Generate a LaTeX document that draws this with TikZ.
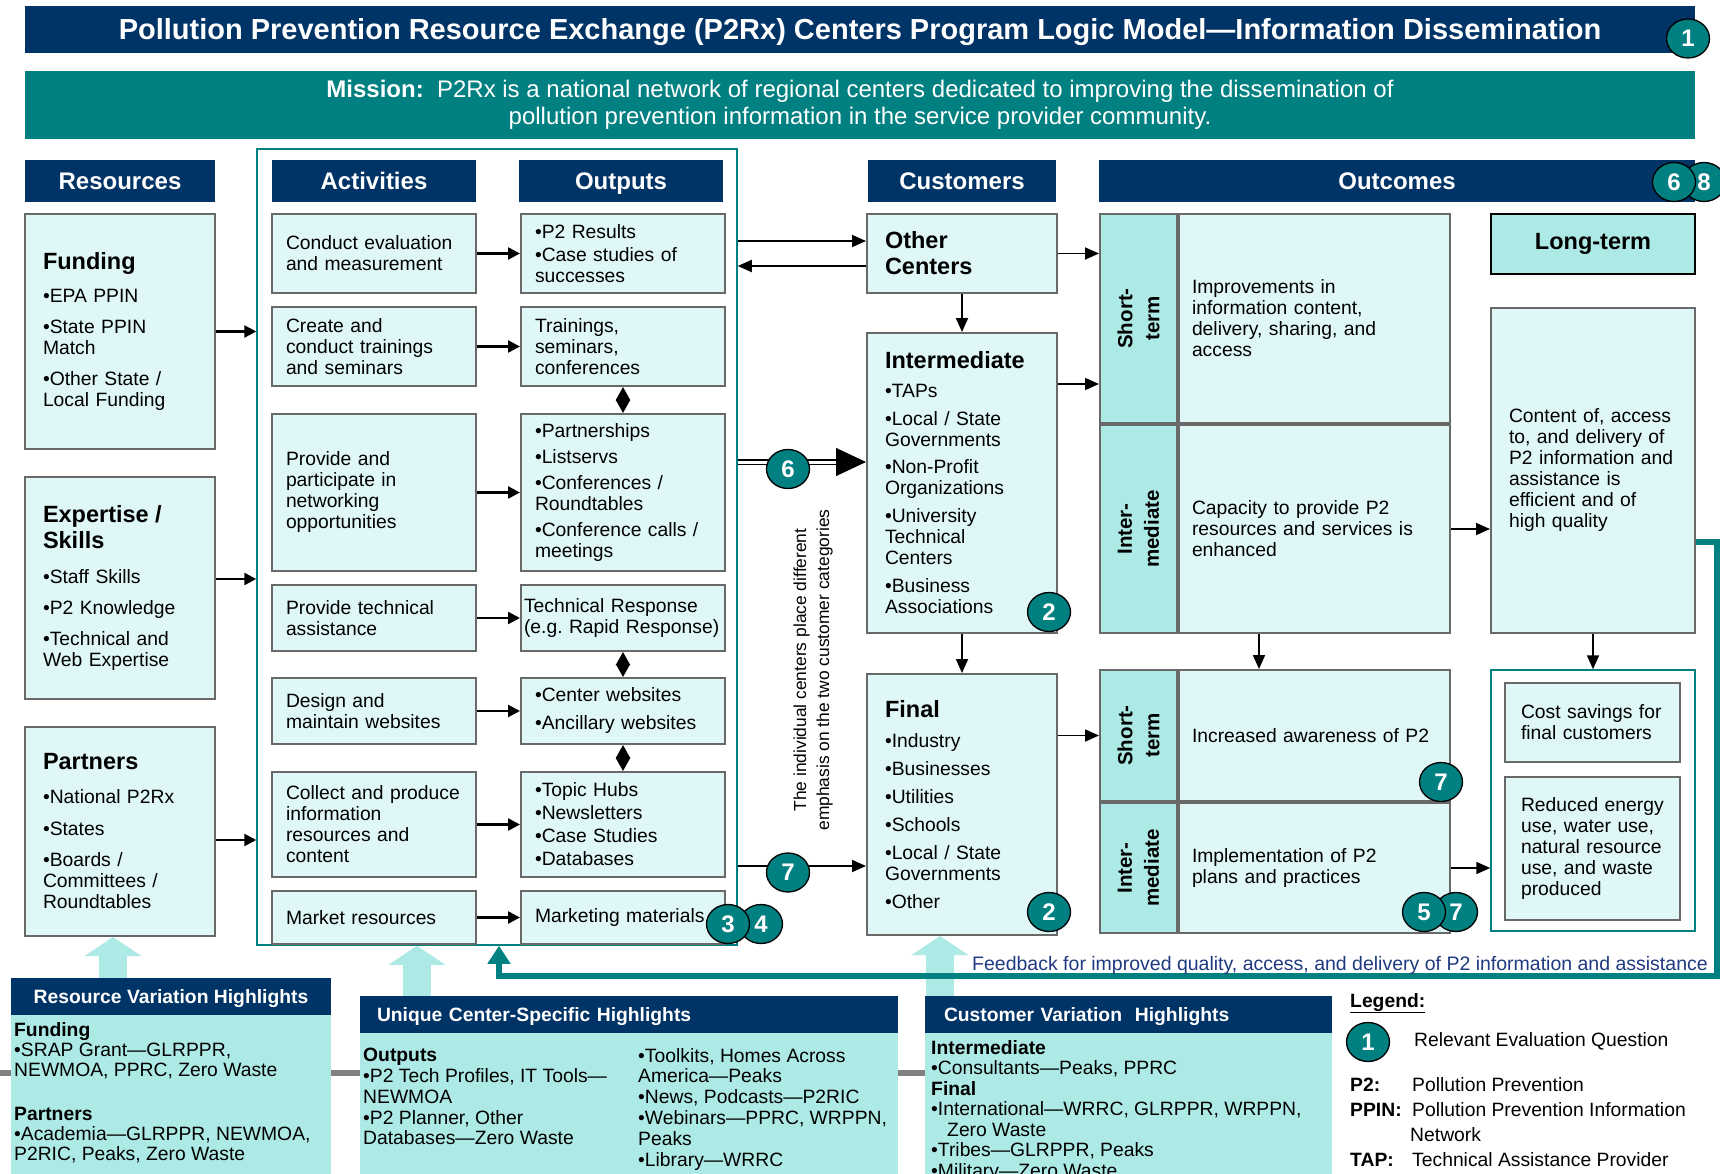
\documentclass[tikz,border=0pt]{standalone}
\usepackage{fontspec}
\setmainfont{Liberation Sans}
\usetikzlibrary{arrows.meta, positioning, shapes.geometric}

\definecolor{navy}{RGB}{0,51,102}
\definecolor{p2teal}{RGB}{0,128,128}
\definecolor{pale}{RGB}{223,247,247}
\definecolor{aqua}{RGB}{173,234,230}
\definecolor{edge}{RGB}{105,105,105}
\definecolor{fbblue}{RGB}{31,58,128}

% font sizes (1pt = 1px of the layout grid)
\newcommand\txtsize{\fontsize{19.3}{21}\selectfont}
\newcommand\hdsize{\fontsize{24}{28}\selectfont\bfseries}
\newcommand\grpsize{\fontsize{23.5}{25}\selectfont\bfseries}

\hyphenpenalty=10000
\exhyphenpenalty=10000

\begin{document}
\begin{tikzpicture}[x=1pt, y=-1pt,
    banner/.style={rectangle, fill=navy, text=white, font=\hdsize, inner sep=0pt, minimum height=42pt,
                   text height=17.5pt, text depth=0pt},
    cell/.style={rectangle, draw=edge, line width=2pt, fill=pale, font=\txtsize, align=left, inner ysep=2pt},
    resbox/.style={cell, minimum width=190pt, text width=154pt, inner xsep=18pt},
    actbox/.style={cell, minimum width=204pt, text width=176pt, inner xsep=14pt},
    custbox/.style={cell, minimum width=190pt, text width=154pt, inner xsep=18pt},
    termbox/.style={cell, fill=aqua, minimum width=77pt},
    resultbox/.style={cell, minimum width=271pt, text width=245pt, inner xsep=13pt},
    termlabel/.style={rotate=90, align=center, font=\fontsize{20.5}{27}\selectfont\bfseries, inner sep=0pt},
    badge/.style={ellipse, draw=black, line width=1.3pt, fill=p2teal, text=white, minimum width=43pt, minimum height=39pt, inner sep=0pt, font=\fontsize{24}{24}\selectfont\bfseries},
    flow/.style={-{Triangle[length=12pt, width=12pt]}, line width=2.5pt},
    thinflow/.style={-{Triangle[length=14pt, width=12pt]}, line width=1.8pt},
    link/.style={{Triangle[length=13pt, width=14pt]}-{Triangle[length=13pt, width=14pt]}, line width=2pt},
    bigup/.style={-{Triangle[length=19pt, width=56pt]}, line width=28pt, draw=aqua},
    feedback/.style={-{Triangle[length=18pt, width=22pt]}, line width=6pt, draw=p2teal},
    note/.style={font=\txtsize, align=left, inner sep=0pt, anchor=north west},
    subhd/.style={banner, minimum height=37pt, font=\fontsize{19.3}{21}\selectfont\bfseries, text height=13.8pt, text depth=0pt}
]
\useasboundingbox (0,0) rectangle (1720,1174);
\fill[white] (0,0) rectangle (1720,1174);

% grey rule behind the highlight boxes
\draw[line width=6pt, draw=gray] (0,1073) -- (1000,1073);

% title and mission
\node[banner, minimum width=1670pt, minimum height=47pt, font=\fontsize{29}{32}\selectfont\bfseries,
      text height=21pt, text depth=0pt] (title) at (860,29.5)
  {Pollution Prevention Resource Exchange (P2Rx) Centers Program Logic Model—Information Dissemination};
\node[rectangle, fill=p2teal, text=white, minimum width=1670pt, minimum height=68pt, align=center,
      font=\fontsize{24}{26.5}\selectfont] (mission) at (860,105)
  {\textbf{Mission:}\ \ P2Rx is a national network of regional centers dedicated to improving the dissemination of\\
   pollution prevention information in the service provider community.};

% column headers
\node[banner, minimum width=190pt] (reshd) at (120,181) {Resources};
\node[banner, minimum width=204pt] (acthd) at (374,181) {Activities};
\node[banner, minimum width=204pt] (outhd) at (621,181) {Outputs};
\node[banner, minimum width=188pt] (custhd) at (962,181) {Customers};
\node[banner, minimum width=596pt] (outchd) at (1397,181) {Outcomes};

% frame round activities and outputs
\node[draw=p2teal, line width=1.5pt, minimum width=480pt, minimum height=796pt, inner sep=0pt] (actframe) at (497,547) {};

% resources
\node[resbox, minimum height=235pt] (fund) at (120,331.5)
  {{\grpsize Funding}\\[12pt]•EPA PPIN\\[10pt]•State PPIN\\Match\\[10pt]•Other State /\\Local Funding};
\node[resbox, minimum height=222pt, below=26pt of fund] (expert)
  {{\grpsize Expertise /}\\[4pt]{\grpsize Skills}\\[14pt]•Staff Skills\\[10pt]•P2 Knowledge\\[10pt]•Technical and\\Web Expertise};
\node[resbox, minimum height=209pt, below=26pt of expert] (partner)
  {{\grpsize Partners}\\[13pt]•National P2Rx\\[11pt]•States\\[10pt]•Boards /\\Committees /\\Roundtables};

% activities
\node[actbox, minimum height=79pt] (act1) at (374,253.5) {Conduct evaluation\\and measurement};
\node[actbox, minimum height=79pt, below=12pt of act1] (act2) {Create and\\conduct trainings\\and seminars};
\node[actbox, minimum height=157pt, below=26pt of act2] (act3) {Provide and\\participate in\\networking\\opportunities};
\node[actbox, minimum height=66pt, below=12pt of act3] (act4) {Provide technical\\assistance};
\node[actbox, minimum height=66pt, below=25pt of act4] (act5) {Design and\\maintain websites};
\node[actbox, minimum height=105pt, below=26pt of act5] (act6) {Collect and produce\\information\\resources and\\content};
\node[actbox, minimum height=53pt, below=12pt of act6] (act7) {Market resources};

% outputs
\node[actbox, minimum height=79pt, right=43pt of act1] (out1) {•P2 Results\\[2pt]•Case studies of\\successes};
\node[actbox, minimum height=79pt, right=43pt of act2] (out2) {Trainings,\\seminars,\\conferences};
\node[actbox, minimum height=157pt, right=43pt of act3] (out3)
  {•Partnerships\\[5pt]•Listservs\\[5pt]•Conferences /\\Roundtables\\[5pt]•Conference calls /\\meetings};
\node[actbox, minimum height=66pt, inner xsep=3pt, text width=198pt, right=43pt of act4] (out4)
  {Technical Response\\(e.g.\ Rapid Response)};
\node[actbox, minimum height=66pt, right=43pt of act5] (out5) {•Center websites\\[7pt]•Ancillary websites};
\node[actbox, minimum height=105pt, right=43pt of act6] (out6)
  {•Topic Hubs\\[2pt]•Newsletters\\[2pt]•Case Studies\\[2pt]•Databases};
\node[actbox, minimum height=53pt, right=43pt of act7] (out7) {Marketing materials};

% customers
\node[custbox, minimum height=79pt, font=\fontsize{23.5}{26}\selectfont\bfseries] (other) at (962,253.5) {Other\\Centers};
\node[custbox, minimum height=300pt, below=38pt of other] (inter)
  {{\grpsize Intermediate}\\[8pt]•TAPs\\[7pt]•Local / State\\Governments\\[6pt]•Non-Profit\\Organizations\\[7pt]•University\\Technical\\Centers\\[7pt]•Business\\Associations};
\node[custbox, minimum height=261pt, below=39pt of inter] (final)
  {{\grpsize Final}\\[9pt]•Industry\\[7pt]•Businesses\\[7pt]•Utilities\\[7pt]•Schools\\[7pt]•Local / State\\Governments\\[7pt]•Other};

\node[rotate=90, align=center, font=\fontsize{17.4}{23}\selectfont, inner sep=0pt] (emph) at (813,670)
  {The individual centers place different\\emphasis on the two customer categories};

% short-term and intermediate outcomes
\node[termbox, minimum height=209pt] (st1lab) at (1138.5,318.5) {};
\node[termbox, minimum height=208pt, below=0pt of st1lab] (im1lab) {};
\node[termbox, minimum height=131pt] (st2lab) at (1138.5,735.5) {};
\node[termbox, minimum height=130pt, below=0pt of st2lab] (im2lab) {};
\node[termlabel] (st1name) at (st1lab) {Short-\\term};
\node[termlabel] (im1name) at (im1lab) {Inter-\\mediate};
\node[termlabel] (st2name) at (st2lab) {Short-\\term};
\node[termlabel] (im2name) at (im2lab) {Inter-\\mediate};

\node[resultbox, minimum height=209pt, right=0pt of st1lab] (st1txt)
  {Improvements in\\information content,\\delivery, sharing, and\\access};
\node[resultbox, minimum height=208pt, right=0pt of im1lab] (im1txt)
  {Capacity to provide P2\\resources and services is\\enhanced};
\node[resultbox, minimum height=131pt, right=0pt of st2lab] (st2txt) {Increased awareness of P2};
\node[resultbox, minimum height=130pt, right=0pt of im2lab] (im2txt) {Implementation of P2\\plans and practices};

% long-term outcomes
\node[rectangle, draw=black, line width=2pt, fill=aqua, minimum width=204pt, minimum height=60pt, font=\grpsize] (lthd) at (1593,244) {Long-term};
\node[cell, minimum width=204pt, text width=168pt, inner xsep=18pt, minimum height=325pt, below=32pt of lthd] (ltbox)
  {Content of, access\\to, and delivery of\\P2 information and\\assistance is\\efficient and of\\high quality};
\node[draw=p2teal, line width=1.5pt, fill=white, minimum width=204pt, minimum height=261pt, inner sep=0pt] (ltframe) at (1593,800.5) {};
\node[cell, minimum width=175pt, text width=143pt, inner xsep=16pt, minimum height=79pt] (cost) at (1592.5,722.5)
  {Cost savings for\\final customers};
\node[cell, minimum width=175pt, text width=143pt, inner xsep=16pt, minimum height=143pt, below=13pt of cost] (reduce)
  {Reduced energy\\use, water use,\\natural resource\\use, and waste\\produced};

% connectors
\draw[flow] (fund.east) -- (fund.east -| actframe.west);
\draw[flow] (expert.east |- 0,579) -- (actframe.west |- 0,579);
\draw[flow] (partner.east |- 0,840) -- (actframe.west |- 0,840);
\foreach \i in {1,...,7}
  \draw[flow] (act\i) -- (out\i);
\draw[link] (out2) -- (out3);
\draw[link] (out4) -- (out5);
\draw[link] (out5) -- (out6);

\draw[thinflow] (actframe.east |- 0,241) -- (other.west |- 0,241);
\draw[thinflow] (other.west |- 0,266) -- (actframe.east |- 0,266);
\coordinate (six) at (837,462);
\draw[double=white, double distance=3pt, line width=1.6pt] (actframe.east |- six) -- (six);
\draw[-{Triangle[length=30pt, width=28pt]}, line width=1pt] (six) -- (inter.west |- six);
\draw[thinflow] (actframe.east |- 0,866) -- (final.west |- 0,866);

\draw[thinflow] (other.south) -- (inter.north);
\draw[thinflow] (inter.south) -- (final.north);
\draw[thinflow] (other.east) -- (other.east -| st1lab.west);
\draw[thinflow] (inter.east |- 0,384) -- (st1lab.west |- 0,384);
\draw[thinflow] (final.east |- st2lab.west) -- (st2lab.west);
\draw[thinflow] (im1txt.east) -- (im1txt.east -| ltbox.west);
\draw[thinflow] (im2txt.east) -- (im2txt.east -| ltframe.west);
\draw[thinflow] (im1txt.south -| 1259,0) -- (st2txt.north -| 1259,0);
\draw[thinflow] (ltbox.south) -- (ltframe.north);

% highlight boxes
\node[subhd, minimum width=320pt] (resvar) at (171,996.5) {Resource Variation Highlights};
\node[fill=aqua, minimum width=320pt, minimum height=160pt, inner sep=0pt, below=0pt of resvar] (resvarbody) {};
\node[subhd, minimum width=538pt, text width=504pt, inner xsep=17pt, align=left] (unique) at (629,1014.5) {Unique Center-Specific Highlights};
\node[fill=aqua, minimum width=538pt, minimum height=142pt, inner sep=0pt, below=0pt of unique] (uniquebody) {};
\node[subhd, minimum width=407pt, text width=369pt, inner xsep=19pt, align=left] (custvar) at (1128.5,1014.5) {Customer Variation\ \ Highlights};
\node[fill=aqua, minimum width=407pt, minimum height=142pt, inner sep=0pt, below=0pt of custvar] (custvarbody) {};

\node[note, font=\fontsize{19.3}{20.3}\selectfont] (resvartxt) at (14,1022)
  {\textbf{Funding}\\•SRAP Grant—GLRPPR,\\NEWMOA, PPRC, Zero Waste\\[23pt]\textbf{Partners}\\•Academia—GLRPPR, NEWMOA,\\P2RIC, Peaks, Zero Waste};
\node[note, font=\fontsize{19.3}{20.8}\selectfont] (uniquetxt) at (363,1048)
  {\textbf{Outputs}\\•P2 Tech Profiles, IT Tools—\\NEWMOA\\•P2 Planner, Other\\Databases—Zero Waste};
\node[note, font=\fontsize{19.3}{20.8}\selectfont] (uniquetxtb) at (638,1048)
  {•Toolkits, Homes Across\\America—Peaks\\•News, Podcasts—P2RIC\\•Webinars—PPRC, WRPPN,\\Peaks\\•Library—WRRC};
\node[note, font=\fontsize{19.3}{20.5}\selectfont] (custvartxt) at (931,1040)
  {\textbf{Intermediate}\\•Consultants—Peaks, PPRC\\\textbf{Final}\\•International—WRRC, GLRPPR, WRPPN,\\\hspace*{16pt}Zero Waste\\•Tribes—GLRPPR, Peaks\\•Military—Zero Waste};

% upward arrows from the highlights
\draw[bigup] (resvar.north -| 113,0) -- (partner.south -| 113,0);
\draw[bigup] (unique.north -| 417,0) -- (actframe.south -| 417,0);
\draw[bigup] (custvar.north -| 940,0) -- (final.south -| 940,0);

% feedback loop
\draw[feedback] (ltbox.east |- 0,542) -| (1717,976) -| (actframe.south -| 499,0);
\node[anchor=base east, font=\fontsize{19.5}{20}\selectfont, text=fbblue, inner sep=0pt] (fbtext) at (1708,970)
  {Feedback for improved quality, access, and delivery of P2 information and assistance};

% legend
\node[note, font=\txtsize\bfseries] (legendhd) at (1350,993) {\underline{Legend:}};
\node[badge] (legq) at (1368,1042) {1};
\node[anchor=west, font=\txtsize, inner sep=0pt] (legqtxt) at (1414,1041) {Relevant Evaluation Question};
\node[note, font=\fontsize{19.3}{25}\selectfont] (legterms) at (1350,1077)
  {\makebox[62pt][l]{\textbf{P2:}}Pollution Prevention\\
   \makebox[62pt][l]{\textbf{PPIN:}}Pollution Prevention Information\\
   \hspace*{60pt}Network\\
   \makebox[62pt][l]{\textbf{TAP:}}Technical Assistance Provider};

% evaluation question markers
\node[badge] (q1) at (1688,38.5) {1};
\node[badge] (q8) at (1704,182) {8};
\node[badge] (q6) at (1674,182) {6};
\node[badge] (q2a) at (1049,612) {2};
\node[badge] (q2b) at (1049,912) {2};
\node[badge] (q4) at (761,924) {4};
\node[badge] (q3) at (728,924) {3};
\node[badge] (q6b) at (788,469) {6};
\node[badge] (q7a) at (788,872.5) {7};
\node[badge] (q7b) at (1441,782) {7};
\node[badge] (q7c) at (1456,912) {7};
\node[badge] (q5) at (1424,912) {5};
\end{tikzpicture}
\end{document}
